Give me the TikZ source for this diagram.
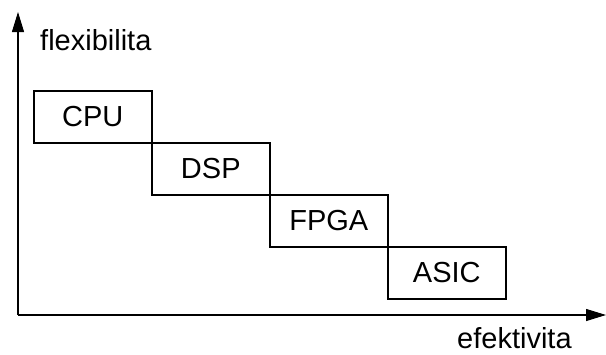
\documentclass[tikz,border=0pt]{standalone}
\usepackage{fontspec}
\setmainfont{Liberation Sans}
\usetikzlibrary{arrows.meta}
\begin{document}
\begin{tikzpicture}[x=1pt,y=-1pt,
  stage/.style={draw=black,line width=1.6pt,minimum width=118pt,minimum height=52pt,
    inner sep=0pt,anchor=north west,font=\fontsize{29}{33}\selectfont},
  axis/.style={draw=black,line width=1.1pt,-{Triangle[length=20pt,width=12pt]}},
  axlabel/.style={font=\fontsize{29}{33}\selectfont,inner sep=0pt,anchor=base west}]
  \useasboundingbox (0,0) rectangle (606,354);
  % axes
  \coordinate (origin) at (18,315);
  \coordinate (ytop) at (18,12);
  \coordinate (xend) at (606,315);
  \draw[axis] (origin) -- (ytop);
  \draw[axis] (origin) -- (xend);
  \node[axlabel] (ylab) at (40,50) {flexibilita};
  \node[axlabel] (xlab) at (457,348) {efektivita};
  % staircase of processing units
  \node[stage] (cpu) at (33,90) {CPU};
  \node[stage] (dsp) at (151,142) {DSP};
  \node[stage] (fpga) at (269,194) {FPGA};
  \node[stage] (asic) at (387,246) {ASIC};
\end{tikzpicture}
\end{document}
